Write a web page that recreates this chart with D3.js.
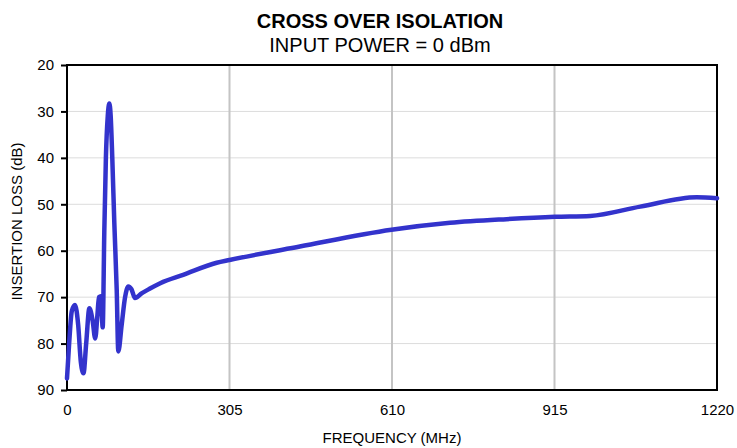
<!DOCTYPE html>
<html><head><meta charset="utf-8">
<script src="https://cdn.jsdelivr.net/npm/d3@7/dist/d3.min.js"></script>
<style>body{margin:0;background:#fff;} text{font-family:"Liberation Sans",Arial,sans-serif;}</style>
</head><body>
<svg id="c" width="737" height="448"></svg>
<script>
const title = "CROSS OVER ISOLATION";
const subtitle = "INPUT POWER = 0 dBm";
const xLabel = "FREQUENCY (MHz)";
const yLabel = "INSERTION LOSS (dB)";
const xTicks = [0, 305, 610, 915, 1220];
const yTicks = [20, 30, 40, 50, 60, 70, 80, 90];
const freq = [0, 4, 9, 15, 21, 26, 31, 36, 42, 48, 53, 57, 60, 63.5, 67, 70, 73, 76.5, 79.4, 82, 85, 88.8, 93.3, 96.3, 102.6, 109, 115, 121, 127.6, 140, 155, 175, 218, 281, 305, 437, 609, 719, 825, 916, 982, 1076, 1182, 1220];
const loss = [87.5, 80, 73, 71.7, 76, 84, 86.4, 80, 72.4, 75, 78.9, 74, 70, 69.8, 76.5, 56, 40, 31, 28.3, 31, 40, 54, 68.4, 81.7, 76, 70, 67.7, 68.3, 70.2, 69.2, 68.2, 67, 65.2, 62.6, 62, 59.1, 55.5, 54.0, 53.2, 52.7, 52.5, 50.5, 48.5, 48.7];

const svg = d3.select("#c");
const L = 67, R = 717, T = 65, B = 390;
const x = d3.scaleLinear().domain([0, 1220]).range([L, R]);
const y = d3.scaleLinear().domain([20, 90]).range([T, B]);
const FONT = "Liberation Sans, Arial, sans-serif";

// horizontal grid
svg.append("g").selectAll("line").data(yTicks.slice(1, -1)).join("line")
  .attr("x1", L).attr("x2", R).attr("y1", d => y(d)).attr("y2", d => y(d))
  .attr("stroke", "#dcdcdc").attr("stroke-width", 1);
// vertical grid
svg.append("g").selectAll("line").data(xTicks.slice(1, -1)).join("line")
  .attr("x1", d => x(d)).attr("x2", d => x(d)).attr("y1", T).attr("y2", B)
  .attr("stroke", "#c4c4c4").attr("stroke-width", 2);

// frame
svg.append("rect").attr("x", L).attr("y", T).attr("width", R - L).attr("height", B - T)
  .attr("fill", "none").attr("stroke", "#000").attr("stroke-width", 2);

// y axis
const ya = svg.append("g").attr("transform", `translate(${L},0)`)
  .call(d3.axisLeft(y).tickValues(yTicks).tickSize(6).tickPadding(7));
ya.select(".domain").remove();
ya.selectAll("line").attr("stroke", "#000").attr("stroke-width", 2);
ya.selectAll("text").attr("font-size", 15).attr("fill", "#000").style("font-family", FONT);

// x axis
const xa = svg.append("g").attr("transform", `translate(0,${B})`)
  .call(d3.axisBottom(x).tickValues(xTicks).tickFormat(d3.format("d")).tickSize(0).tickPadding(14));
xa.select(".domain").remove();
xa.selectAll("text").attr("font-size", 15).attr("fill", "#000").style("font-family", FONT);

// line
const pts = freq.map((f, i) => [f, loss[i]]);
svg.append("path").datum(pts)
  .attr("d", d3.line().x(d => x(d[0])).y(d => y(d[1])).curve(d3.curveMonotoneX))
  .attr("fill", "none").attr("stroke", "#3333cc").attr("stroke-width", 4.5)
  .attr("stroke-linejoin", "round").attr("stroke-linecap", "round");

// titles
svg.append("text").attr("x", 380).attr("y", 28).attr("text-anchor", "middle")
  .attr("font-size", 20).attr("font-weight", "bold").text(title);
svg.append("text").attr("x", 380).attr("y", 52).attr("text-anchor", "middle")
  .attr("font-size", 20).text(subtitle);
svg.append("text").attr("x", 392).attr("y", 443).attr("text-anchor", "middle")
  .attr("font-size", 15).text(xLabel);
svg.append("text").attr("transform", `translate(22,${(T + B) / 2 - 6}) rotate(-90)`)
  .attr("text-anchor", "middle").attr("font-size", 15).text(yLabel);
</script>
</body></html>
